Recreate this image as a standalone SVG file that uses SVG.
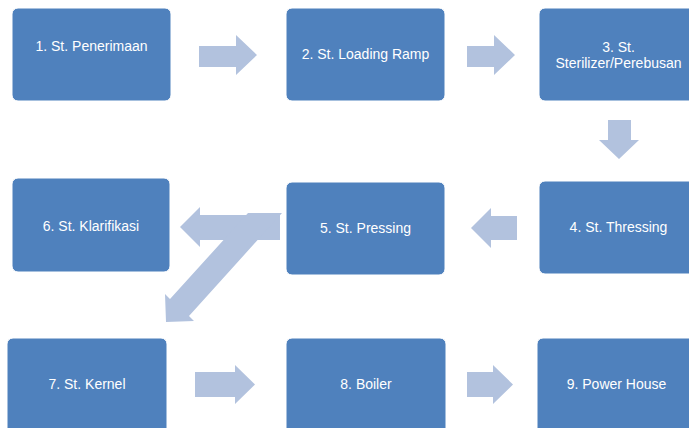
<svg xmlns="http://www.w3.org/2000/svg" width="689" height="428" viewBox="0 0 689 428">
<style>
.box{fill:#4F81BD;stroke:#ffffff;stroke-width:1}
.lbl{font-family:"Liberation Sans",Arial,sans-serif;font-size:14px;fill:#ffffff;text-anchor:middle}
.arr{fill:#B2C2DE}
</style>
<rect width="689" height="428" fill="#ffffff"/>
<g id="n1"><rect class="box" x="12" y="8" width="159" height="93" rx="6"/><text class="lbl" x="91.5" y="51">1. St. Penerimaan</text></g>
<g id="n2"><rect class="box" x="286" y="8" width="159" height="93" rx="6"/><text class="lbl" x="365.5" y="59">2. St. Loading Ramp</text></g>
<g id="n3"><rect class="box" x="539" y="8" width="159" height="93" rx="6"/><text class="lbl" x="618.5" y="52">3. St.</text><text class="lbl" x="618.5" y="68">Sterilizer/Perebusan</text></g>
<g id="n4"><rect class="box" x="539" y="181" width="159" height="93" rx="6"/><text class="lbl" x="618.5" y="232">4. St. Thressing</text></g>
<g id="n5"><rect class="box" x="286" y="182" width="159" height="93" rx="6"/><text class="lbl" x="365.5" y="233">5. St. Pressing</text></g>
<g id="n6"><rect class="box" x="12" y="178" width="158" height="94" rx="6"/><text class="lbl" x="91" y="231">6. St. Klarifikasi</text></g>
<g id="n7"><rect class="box" x="7" y="338" width="160" height="100" rx="6"/><text class="lbl" x="87" y="389">7. St. Kernel</text></g>
<g id="n8"><rect class="box" x="286" y="338" width="160" height="100" rx="6"/><text class="lbl" x="366" y="389">8. Boiler</text></g>
<g id="n9"><rect class="box" x="537" y="338" width="159" height="100" rx="6"/><text class="lbl" x="616.5" y="389">9. Power House</text></g>
<g id="connectors">
<polygon class="arr" points="199,46 236,46 236,35 257,55 236,75 236,67 199,67"/>
<polygon class="arr" points="467,46 494,46 494,35 515,55 494,75 494,67 467,67"/>
<polygon class="arr" points="608,120 631,120 631,140 639,140 619,159 599,140 608,140"/>
<polygon class="arr" points="517,216 491,216 491,208 471,228 491,248 491,240 517,240"/>
<polygon class="arr" points="280,215 200,215 200,207 180,227 200,247 200,240 280,240"/>
<polygon class="arr" points="248,213 282,213 189,316 194,321 166,322 165,294 170,299"/>
<polygon class="arr" points="195,372 235,372 235,365 255,384.5 235,404 235,397 195,397"/>
<polygon class="arr" points="467,372 493,372 493,365 513,384.5 493,404 493,397 467,397"/>
</g>
</svg>
